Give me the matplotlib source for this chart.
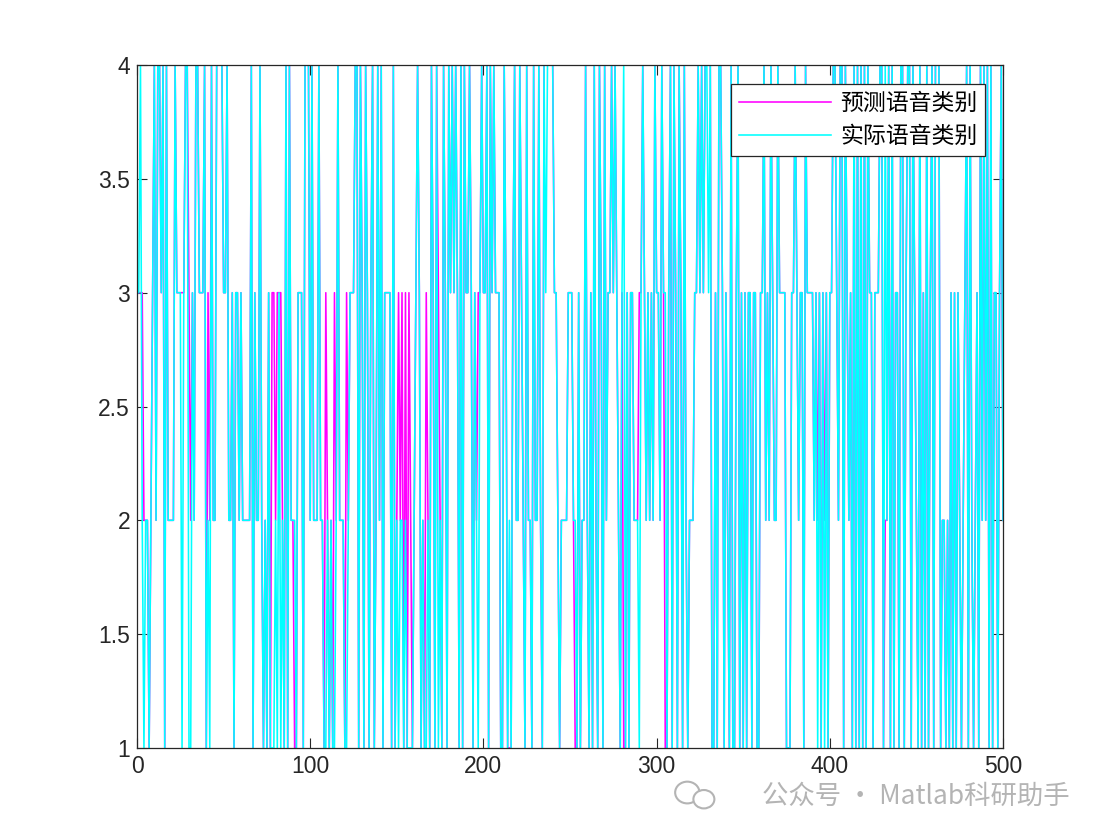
import matplotlib
matplotlib.use("Agg")
import matplotlib.pyplot as plt
from matplotlib.ticker import FuncFormatter
from matplotlib.patches import Ellipse

plt.rcParams["font.family"] = ["Liberation Sans", "DejaVu Sans"]

actual_001 = [3,4,2,1,2,2,1,2,3,4, 2,4,4,3,4,1,4,2,2,2, 2,4,3,3,3,1,3,4,4,1, 1,3,2,4,4,3,3,3,4,1, 2,1]
actual_043 = [4,2,2,4,4,4,4,3,3,4, 2,2,3,1,3,3,2,3,2,2, 2,2,2,4,1,3,2,2,4,2, 1,2,1,3,1,1,1,2,1,3, 1,2]
actual_085 = [1,4,1,4,2,2,2,1,3,3, 3,1,4,4,4,2,4,2,2,2, 4,2,2,1,1,2,1,2,1,1, 2,4,2,2,2,1,1,2,3,3, 3,4]
actual_127 = [4,1,4,3,1,4,3,1,3,4, 1,2,4,2,4,1,3,3,3,3, 1,4,1,2,1,2,2,1,2,1, 1,1,1,2,3,4,3,1,2,1, 1,2]
actual_169 = [1,4,3,1,4,1,2,1,4,3, 1,4,3,4,3,4,3,1,4,1, 4,3,3,4,3,1,3,2,1,3, 4,3,3,4,1,4,3,4,3,3, 3,1]
actual_211 = [1,4,3,1,2,1,3,4,2,2, 4,3,2,1,4,2,2,1,4,2, 2,4,2,1,4,3,4,4,4,4, 3,3,2,1,2,2,2,2,3,3, 3,2]
actual_253 = [2,1,3,1,2,2,4,2,1,3, 1,4,2,1,4,3,1,4,2,3, 3,4,3,4,3,2,1,3,4,1, 3,1,3,3,2,2,2,1,3,4]
actual_293 = [3,2,3,2,3,2,4,3,3,2, 4,3,3,1,3,4,1,4,3,1, 4,3,1,4,2,1,2,2,2,3, 3,4,3,4,3,4,4,3,4,1, 1,3]
actual_335 = [1,4,4,3,1,3,2,1,4,1, 1,3,4,1,3,1,3,1,3,3, 1,3,3,1,1,3,3,4,2,3, 2,4,3,2,2,4,3,3,3,3, 1,1]
actual_377 = [1,3,3,4,3,2,3,3,1,4, 3,3,3,3,2,3,1,3,1,3, 1,3,1,3,3,4,4,3,2,4, 4,1,4,3,2,3,1,4,1,4, 1,4]
actual_419 = [1,4,1,4,3,3,1,3,3,3, 4,4,1,4,2,4,1,4,1,3, 3,1,4,4,1,3,4,4,1,4, 3,2,1,4,1,3,1,4,1,3]
actual_459 = [4,1,4,4,4,1,2,2,1,2, 1,3,1,3,1,3,2,1,2,3, 4,1,4,2,1,2,3,1,4,2, 4,2,4,1,4,1,3,3,1,3, 4,2]

# samples where the predicted class differs from the actual one
pred_diff = {1:3, 2:3, 3:3, 4:2, 5:2, 25:3, 26:3, 28:4, 30:3, 31:2, 41:3, 42:2,
             76:3, 78:3, 79:3, 81:3, 83:3, 91:1, 109:3, 114:3, 121:3,
             151:3, 153:3, 155:3, 157:3, 158:2, 167:3, 174:3, 193:3, 197:3,
             213:3, 215:1, 236:4, 253:1, 255:3, 262:3, 281:1, 290:3,
             305:1, 322:3, 323:3, 330:4, 332:1, 338:3, 339:1, 360:3, 361:3,
             378:3, 379:3, 393:2, 395:1, 397:2, 432:2, 455:1,
             470:3, 480:1, 490:2, 495:3}

actual = (actual_001 + actual_043 + actual_085 + actual_127 + actual_169 + actual_211
          + actual_253 + actual_293 + actual_335 + actual_377 + actual_419 + actual_459)
predicted = [pred_diff.get(i + 1, v) for i, v in enumerate(actual)]
x = list(range(1, len(actual) + 1))

fig = plt.figure(figsize=(11.05, 8.36), dpi=100)
ax = fig.add_axes([0.124, 0.1053, 0.7837, 0.8169])

ax.plot(x, predicted, color="#FF00FF", linewidth=1.15, label="预测语音类别")
ax.plot(x, actual, color="#00FFFF", linewidth=1.15, label="实际语音类别")

ax.set_xlim(0, 500)
ax.set_ylim(1, 4)
ax.set_xticks([0, 100, 200, 300, 400, 500])
ax.set_yticks([1, 1.5, 2, 2.5, 3, 3.5, 4])
ax.yaxis.set_major_formatter(FuncFormatter(lambda v, p: f"{v:g}"))
ax.tick_params(direction="in", top=True, right=True, length=7, width=0.8,
               labelsize=16.5, colors="#262626", pad=5)
for s in ax.spines.values():
    s.set_color("#262626")
    s.set_linewidth(0.9)

leg = ax.legend(loc="upper right", bbox_to_anchor=(0.9795, 0.972),
                prop={"family": ["Noto Sans CJK SC", "DejaVu Sans"], "size": 16.5},
                fancybox=False, edgecolor="#262626", framealpha=1,
                handlelength=4.0, borderpad=0.35, labelspacing=0.42,
                handletextpad=0.4, borderaxespad=0)
leg.get_frame().set_linewidth(0.9)

# watermark, with a rough chat-bubble icon
fig.patches.append(Ellipse((0.622, 0.052), 0.022, 0.026, transform=fig.transFigure,
                           facecolor="white", edgecolor="#B4B4B4", linewidth=1.5))
fig.patches.append(Ellipse((0.637, 0.044), 0.019, 0.022, transform=fig.transFigure,
                           facecolor="white", edgecolor="#B4B4B4", linewidth=1.5))
fig.text(0.968, 0.047, "公众号 · Matlab科研助手", ha="right", va="center",
         fontsize=19, color="#B4B4B4",
         family=["Noto Sans CJK SC", "DejaVu Sans"])

fig.savefig("out.png", dpi=100, facecolor="white")
